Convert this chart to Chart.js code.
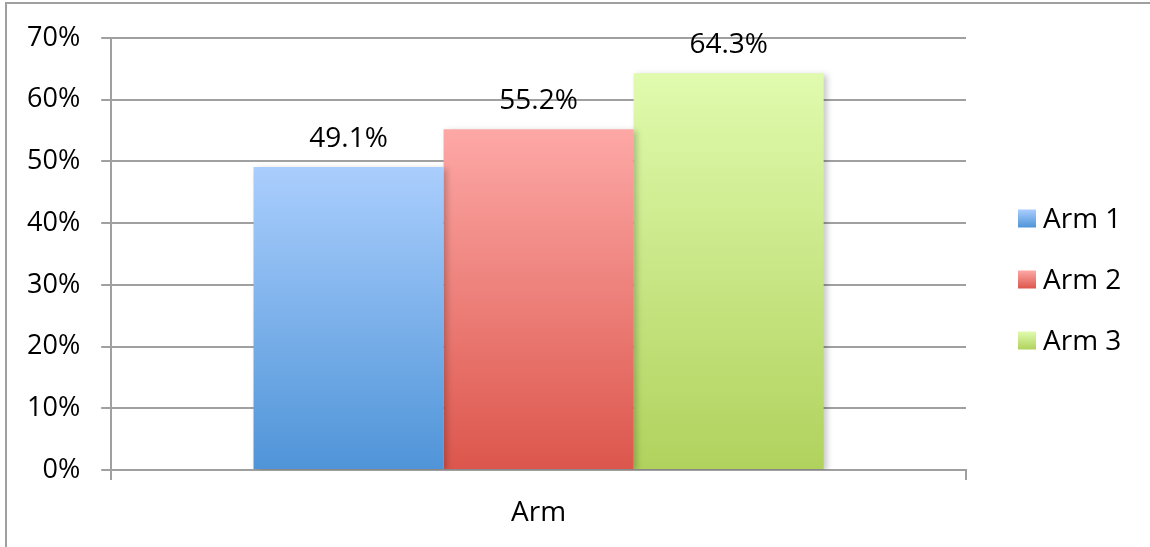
<!DOCTYPE html>
<html>
<head>
<meta charset="utf-8">
<script src="https://cdn.jsdelivr.net/npm/chart.js@4.4.1/dist/chart.umd.min.js"></script>
<style>
  html, body { margin: 0; padding: 0; background: #fff; overflow: hidden; }
  #marco { position: relative; width: 1150px; height: 547px; }
  #marco::before {
    content: ''; position: absolute; left: 5px; top: 2px; right: -10px; bottom: -10px;
    border-left: 2px solid #a0a0a0; border-top: 2px solid #a0a0a0; pointer-events: none;
  }
</style>
</head>
<body>
<div id="marco"><canvas id="grafica" width="1150" height="547"></canvas></div>
<script>
// Datos
const categorias = ['Arm'];
const nombresSeries = ['Arm 1', 'Arm 2', 'Arm 3'];
const arm1 = [49.1];
const arm2 = [55.2];
const arm3 = [64.3];
const ticksY = [0, 10, 20, 30, 40, 50, 60, 70];

// Degradados de cada serie (arriba -> abajo)
const coloresArriba = ['#aacefd', '#fda8a6', '#e0fbae'];
const coloresAbajo = ['#4f94d8', '#dc564c', '#b0d25d'];

const FUENTE = "'Open Sans', 'Liberation Sans', sans-serif";

function degradado(i) {
    return (context) => {
        const { ctx, chartArea, scales } = context.chart;
        if (!chartArea || context.raw == null) return coloresAbajo[i];
        const arriba = scales.y.getPixelForValue(context.raw);
        const abajo = scales.y.getPixelForValue(0);
        const g = ctx.createLinearGradient(0, arriba, 0, abajo);
        g.addColorStop(0, coloresArriba[i]);
        g.addColorStop(1, coloresAbajo[i]);
        return g;
    };
}

// Sombra de las barras + etiquetas de valor encima
const pluginBarras = {
    id: 'barras',
    beforeDatasetsDraw(chart) {
        const ctx = chart.ctx;
        ctx.save();
        ctx.shadowColor = 'rgba(0, 0, 0, 0.22)';
        ctx.shadowBlur = 6;
        ctx.shadowOffsetX = 3;
        ctx.shadowOffsetY = 2;
    },
    afterDatasetsDraw(chart) {
        const ctx = chart.ctx;
        ctx.restore();
        ctx.save();
        ctx.font = `28px ${FUENTE}`;
        ctx.fillStyle = '#000';
        ctx.textAlign = 'center';
        ctx.textBaseline = 'alphabetic';
        chart.data.datasets.forEach((ds, i) => {
            chart.getDatasetMeta(i).data.forEach((barra, j) => {
                ctx.fillText(ds.data[j].toFixed(1) + '%', barra.x, barra.y - 20);
            });
        });
        ctx.restore();
    }
};

// Leyenda a la derecha con cuadros en degradado
const pluginLeyenda = {
    id: 'leyenda',
    afterDraw(chart) {
        const ctx = chart.ctx;
        const n = chart.data.datasets.length;
        const x0 = chart.chartArea.right + 52;
        const centro = chart.height / 2 + 6;
        const paso = 61;
        const lado = 18;
        ctx.save();
        ctx.font = `28px ${FUENTE}`;
        ctx.textAlign = 'left';
        ctx.textBaseline = 'middle';
        chart.data.datasets.forEach((ds, i) => {
            const yc = centro + (i - (n - 1) / 2) * paso;
            const g = ctx.createLinearGradient(0, yc - lado / 2, 0, yc + lado / 2);
            g.addColorStop(0, coloresArriba[i]);
            g.addColorStop(1, coloresAbajo[i]);
            ctx.fillStyle = g;
            ctx.fillRect(x0, yc - lado / 2, lado, lado);
            ctx.fillStyle = '#000';
            ctx.fillText(ds.label, x0 + 25, yc + 2);
        });
        ctx.restore();
    }
};

const series = [arm1, arm2, arm3];

new Chart(document.getElementById('grafica'), {
    type: 'bar',
    data: {
        labels: categorias,
        datasets: series.map((valores, i) => ({
            label: nombresSeries[i],
            data: valores,
            backgroundColor: degradado(i),
            borderWidth: 0,
            barPercentage: 1,
            categoryPercentage: 0.667
        }))
    },
    options: {
        responsive: false,
        animation: false,
        layout: { padding: { left: 6, right: 184, top: 38, bottom: 0 } },
        plugins: {
            legend: { display: false },
            tooltip: { enabled: false }
        },
        scales: {
            y: {
                min: 0,
                max: 70,
                afterBuildTicks: (eje) => { eje.ticks = ticksY.map(v => ({ value: v })); },
                grid: { color: '#a0a0a0', lineWidth: 2, tickLength: 10 },
                border: { color: '#a0a0a0', width: 2 },
                ticks: {
                    padding: 21,
                    color: '#000',
                    font: { family: FUENTE, size: 27 },
                    callback: (v) => v + '%'
                }
            },
            x: {
                grid: { drawOnChartArea: false, color: '#a0a0a0', lineWidth: 2, tickLength: 10 },
                border: { color: '#a0a0a0', width: 2 },
                ticks: {
                    padding: 23,
                    color: '#000',
                    font: { family: FUENTE, size: 28, lineHeight: 0.75 }
                }
            }
        }
    },
    plugins: [pluginBarras, pluginLeyenda]
});
</script>
</body>
</html>
